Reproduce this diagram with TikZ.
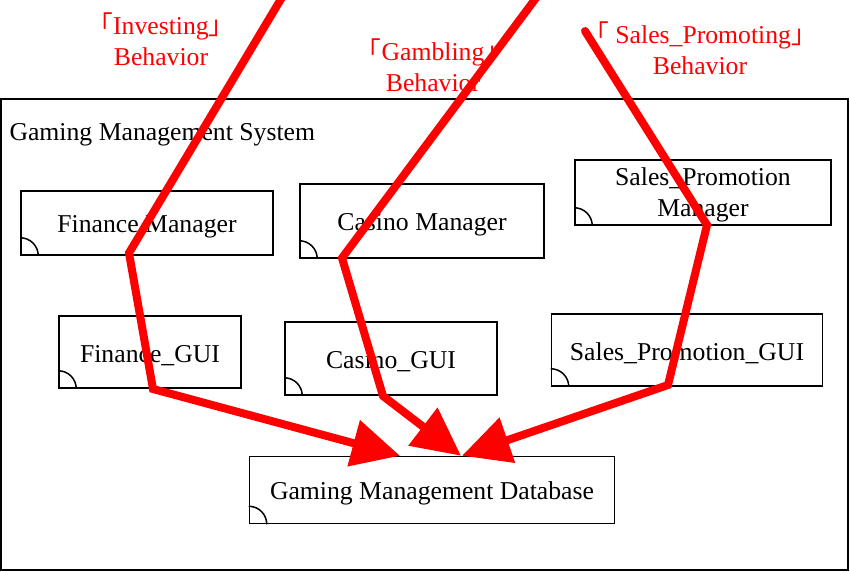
\documentclass[tikz,border=0pt]{standalone}
\usepackage{fontspec}
\setmainfont{Liberation Serif}
\newfontfamily\cjk{Noto Sans CJK SC}
\usetikzlibrary{arrows.meta}
\newcommand{\cjkopen}{{\cjk 「}}
\newcommand{\cjkclose}{{\cjk 」}}

\begin{document}
\begin{tikzpicture}[x=1pt,y=-1pt,
    txt/.style={font=\fontsize{25.7}{31}\selectfont,align=center},
    box/.style={txt,draw,line width=1.5pt,inner sep=0pt,text height=24pt},
    flow/.style={draw=red,line width=8pt,-{Triangle[length=48pt,width=46pt]}},
    behav/.style={txt,text=red}]
    \useasboundingbox (0,0) rectangle (850,572);
    % system frame
    \draw [line width=1.5pt] (1,99) rectangle (848,570);
    \node[txt, anchor=west] (sys) at (6,135) {Gaming Management System};
    % components
    \node[box, minimum width=252pt, minimum height=64pt] (finmgr) at (147,223) {Finance Manager};
    \node[box, minimum width=244pt, minimum height=74pt] (casmgr) at (422,221) {Casino Manager};
    \node[box, minimum width=256pt, minimum height=65pt, text height=54pt] (salmgr) at (703,192.5) {Sales\_Promotion\\Manager};
    \node[box, minimum width=182pt, minimum height=72pt] (fingui) at (150,352) {Finance\_GUI};
    \node[box, minimum width=212pt, minimum height=73pt] (casgui) at (391,358.5) {Casino\_GUI};
    \node[box, minimum width=271pt, minimum height=72pt] (salgui) at (687,350) {Sales\_Promotion\_GUI};
    \node[box, minimum width=365pt, minimum height=67pt] (db) at (432,490) {Gaming Management Database};
    \foreach \n in {finmgr,casmgr,salmgr,fingui,casgui,salgui,db}
        \draw [line width=1.5pt] ([xshift=18pt]\n.south west) arc[start angle=0, end angle=90, radius=18pt];
    % behaviors
    \node[behav] (invest) at (161,39) {\cjkopen Investing\cjkclose\\Behavior};
    \node[behav] (gamble) at (433,65) {\cjkopen Gambling\cjkclose\\Behavior};
    \node[behav] (promo) at (700,48) {\cjkopen\ Sales\_Promoting\cjkclose\\Behavior};
    \coordinate (I0) at (284,-6);
    \coordinate (I1) at (129,253);
    \coordinate (I2) at (153,389);
    \coordinate (G0) at (539,-6);
    \coordinate (G1) at (342,258);
    \coordinate (G2) at (383,396);
    \coordinate (S0) at (585,31);
    \coordinate (S1) at (707,225);
    \coordinate (S2) at (668,385);
    \draw [flow] (I0) -- (I1) -- (I2) -- ([xshift=-32pt]db.north);
    \draw [flow] (G0) -- (G1) -- (G2) -- ([xshift=29pt]db.north);
    \draw [flow, line cap=round] (S0) -- (S1) -- (S2) -- ([xshift=30pt]db.north);
\end{tikzpicture}
\end{document}
